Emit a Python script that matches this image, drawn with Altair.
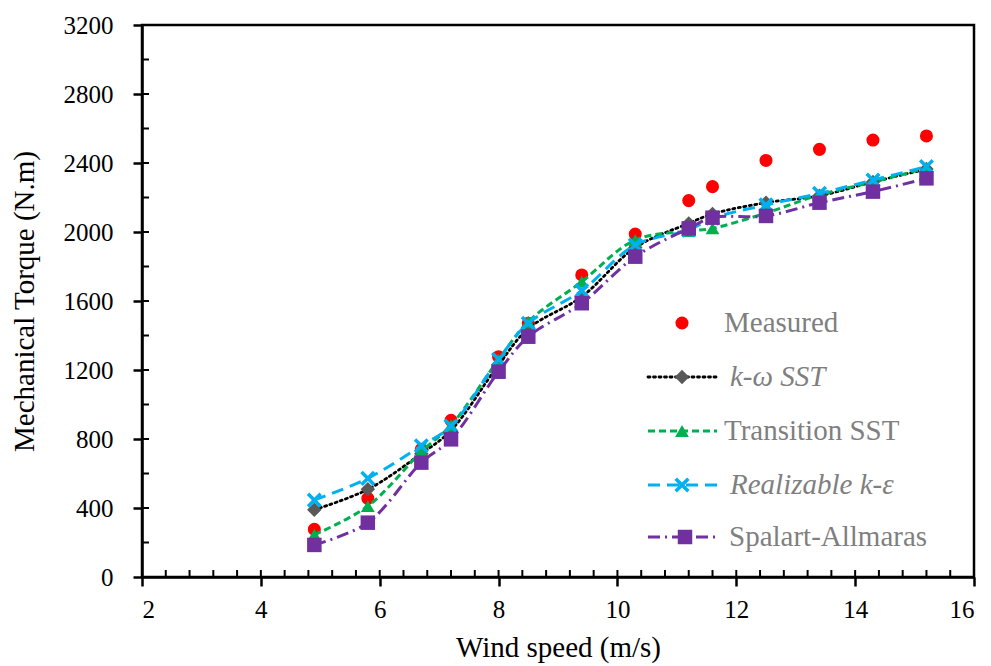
import altair as alt
import numpy as np
import pandas as pd

# ---- data ----
wind = [4.9, 5.8, 6.7, 7.2, 8.0, 8.5, 9.4, 10.3, 11.2, 11.6, 12.5, 13.4, 14.3, 15.2]
measured = [276, 456, 740, 908, 1277, 1471, 1751, 1988, 2182, 2263, 2415, 2479, 2533, 2557]
kw_sst = [390, 508, 715, 850, 1230, 1440, 1625, 1910, 2050, 2105, 2170, 2210, 2290, 2365]
trans_sst = [245, 411, 726, 880, 1260, 1480, 1712, 1954, 2005, 2021, 2110, 2215, 2290, 2370]
realizable = [446, 572, 761, 875, 1262, 1471, 1660, 1925, 2011, 2080, 2157, 2224, 2301, 2379]
spalart = [186, 315, 663, 798, 1190, 1393, 1587, 1857, 2021, 2083, 2093, 2170, 2234, 2311]

x_major = [2, 4, 6, 8, 10, 12, 14, 16]
y_major = [0, 400, 800, 1200, 1600, 2000, 2400, 2800, 3200]
x_minor = [round(v, 1) for v in np.arange(2, 16.01, 0.4)]
y_minor = list(range(0, 3201, 200))

legend_labels = ["Measured", "k-ω SST", "Transition SST", "Realizable k-ε", "Spalart-Allmaras"]

FONT = "Liberation Serif, DejaVu Serif, serif"
W, H = 832, 552
GRAY_TXT = "#7f7f7f"

X = alt.X("x:Q", scale=alt.Scale(domain=[2, 16], nice=False, zero=False),
          axis=alt.Axis(values=x_major, format="d", title="Wind speed (m/s)",
                        labelPadding=11, titleY=70, titleBaseline="middle"))
Y = alt.Y("y:Q", scale=alt.Scale(domain=[0, 3200], nice=False),
          axis=alt.Axis(values=y_major, format="d", title="Mechanical Torque (N.m)",
                        labelPadding=20, titleX=-118, titleY=H / 2, titleBaseline="middle"))

def df_of(vals):
    return pd.DataFrame({"x": wind, "y": vals})

layers = []

# inner tick marks (ticks cross / point inside the frame)
layers.append(alt.Chart(pd.DataFrame({"x": x_minor})).mark_rule(color="black", strokeWidth=2)
              .encode(x=X, y=alt.value(H), y2=alt.value(H - 7)))
layers.append(alt.Chart(pd.DataFrame({"y": y_minor})).mark_rule(color="black", strokeWidth=2)
              .encode(y=Y, x=alt.value(0), x2=alt.value(7)))

# Measured
layers.append(alt.Chart(df_of(measured)).mark_point(filled=True, shape="circle", size=170,
                                                   color="#ff0000", opacity=1)
              .encode(x=X, y=Y))

series = [
    (kw_sst, "#000000", [2, 3.5], "diamond", "#595959", 210, True, 2.8),
    (trans_sst, "#00b050", [7, 4], "triangle-up", "#00b050", 190, True, 3),
    (realizable, "#00b0f0", [12, 7], "M-1,-1L1,1M1,-1L-1,1", "#00b0f0", 160, False, 3),
    (spalart, "#7030a0", [12, 5, 2, 5], "square", "#7030a0", 210, True, 3),
]
for vals, lc, dash, shape, mc, size, filled, lw in series:
    d = df_of(vals)
    layers.append(alt.Chart(d).mark_line(color=lc, strokeDash=dash, strokeWidth=lw,
                                         interpolate="catmull-rom", strokeCap="round" if dash[0] <= 2 else "butt")
                  .encode(x=X, y=Y))
    if filled:
        layers.append(alt.Chart(d).mark_point(shape=shape, size=size, filled=True, color=mc, opacity=1)
                      .encode(x=X, y=Y))
    else:
        layers.append(alt.Chart(d).mark_point(shape=shape, size=size, filled=False, color=mc,
                                              strokeWidth=3.5, opacity=1)
                      .encode(x=X, y=Y))

# ---- custom legend (pixel positions inside the plot) ----
one = pd.DataFrame({"a": [0]})
rows = [298, 352, 406, 460, 512]
sym_x = 540
line_x0, line_x1 = 506, 575
txt_x = [582, 588, 582, 588, 587]
styles = ["normal", "italic", "normal", "italic", "normal"]

layers.append(alt.Chart(one).mark_point(filled=True, shape="circle", size=170, color="#ff0000", opacity=1)
              .encode(x=alt.value(sym_x), y=alt.value(rows[0])))
for i, (vals, lc, dash, shape, mc, size, filled, lw) in enumerate(series, start=1):
    layers.append(alt.Chart(one).mark_rule(color=lc, strokeDash=dash, strokeWidth=lw,
                                           strokeCap="round" if dash[0] <= 2 else "butt")
                  .encode(x=alt.value(line_x0), x2=alt.value(line_x1), y=alt.value(rows[i])))
    layers.append(alt.Chart(one).mark_point(shape=shape, size=size, filled=filled, color=mc,
                                            strokeWidth=3.5, opacity=1)
                  .encode(x=alt.value(sym_x + (3 if i == 4 else 0)), y=alt.value(rows[i])))
for i, lab in enumerate(legend_labels):
    layers.append(alt.Chart(one).mark_text(text=lab, font=FONT, fontSize=29, fontStyle=styles[i],
                                           fontWeight="normal",
                                           color=GRAY_TXT, align="left", baseline="middle")
                  .encode(x=alt.value(txt_x[i]), y=alt.value(rows[i])))

chart = (alt.layer(*layers)
         .properties(width=W, height=H,
                     padding={"left": 142, "top": 25, "right": 17, "bottom": 89},
                     autosize=alt.AutoSizeParams(type="none"))
         .configure_view(stroke="black", strokeWidth=2.5)
         .configure_axis(domainColor="black", domainWidth=2.5, tickColor="black", tickWidth=2.5,
                         tickSize=9, labelFont=FONT, labelFontSize=25, labelColor="black",
                         titleFont=FONT, titleFontSize=29, titleFontWeight="normal",
                         titleColor="black", grid=False)
         .configure_text(font=FONT))

chart.save("out.html", embed_options={"renderer": "svg", "actions": False})
